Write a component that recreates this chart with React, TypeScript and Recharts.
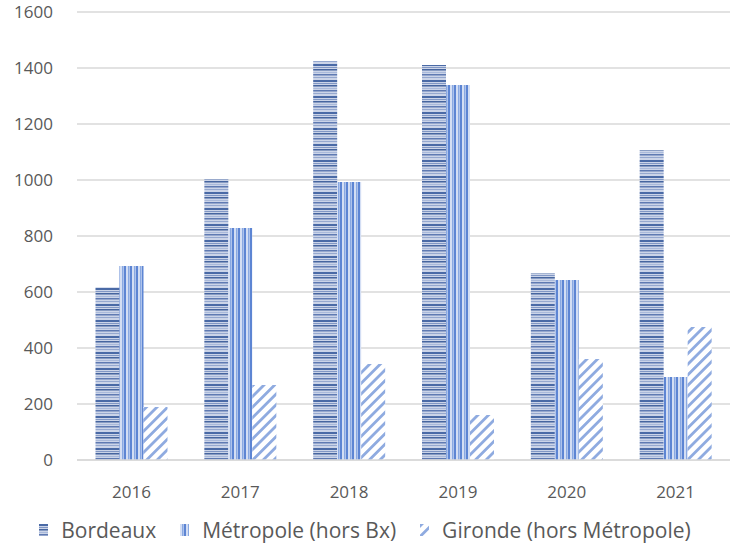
import React from "react";
import { BarChart, Bar, XAxis, YAxis, CartesianGrid, Legend } from "recharts";

const years = ["2016", "2017", "2018", "2019", "2020", "2021"];
const bordeaux = [617, 1003, 1425, 1411, 666, 1107];
const metropole = [693, 829, 993, 1339, 643, 296];
const gironde = [189, 268, 343, 161, 361, 475];
const yTicks = [0, 200, 400, 600, 800, 1000, 1200, 1400, 1600];

const seriesNames = ["Bordeaux", "Métropole (hors Bx)", "Gironde (hors Métropole)"];
const patternIds = ["patBordeaux", "patMetropole", "patGironde"];

const data = years.map((y, i) => ({
  year: y,
  bordeaux: bordeaux[i],
  metropole: metropole[i],
  gironde: gironde[i],
}));

const FONT = "'Open Sans', 'Liberation Sans', sans-serif";

function Patterns() {
  return (
    <defs>
      <pattern id="patBordeaux" width="8" height="16" patternUnits="userSpaceOnUse">
        <rect width="8" height="16" fill="#cbd4e8" />
        <rect y="0" width="8" height="2" fill="#4a6aa6" />
        <rect y="3" width="8" height="1" fill="#8197c4" />
        <rect y="5" width="8" height="1.5" fill="#46659f" />
        <rect y="8" width="8" height="1" fill="#a9b9da" />
        <rect y="10" width="8" height="1.5" fill="#5f7ab2" />
        <rect y="13" width="8" height="1" fill="#95a8cf" />
      </pattern>
      <pattern id="patMetropole" width="6" height="8" patternUnits="userSpaceOnUse">
        <rect width="6" height="8" fill="#d3def4" />
        <rect x="2" width="1.5" height="8" fill="#8aa9e2" />
        <rect x="4" width="2" height="8" fill="#5d85d3" />
      </pattern>
      <pattern id="patGironde" width="7.5" height="7.5" patternUnits="userSpaceOnUse" patternTransform="rotate(45)">
        <rect width="7.5" height="7.5" fill="#ffffff" />
        <rect x="0" width="2.8" height="7.5" fill="#8fabe0" />
      </pattern>
    </defs>
  );
}

function LegendContent() {
  return (
    <div
      style={{
        display: "flex",
        justifyContent: "center",
        alignItems: "center",
        fontFamily: FONT,
        fontSize: 21,
        color: "#595959",
        gap: 24,
        paddingTop: 6,
      }}
    >
      {seriesNames.map((n, i) => (
        <span key={n} style={{ display: "flex", alignItems: "center", gap: 13 }}>
          <svg width="9" height="12">
            <rect width="9" height="12" fill={`url(#${patternIds[i]})`} />
          </svg>
          {n}
        </span>
      ))}
    </div>
  );
}

export default function App() {
  return (
    <div style={{ position: "absolute", left: 0, top: 0, width: 737, height: 548, background: "#fff" }}>
      <BarChart
        width={737}
        height={548}
        data={data}
        margin={{ top: 12, right: 7, left: 0, bottom: 0 }}
        barCategoryGap="17%"
        barGap={0}
      >
        <Patterns />
        <CartesianGrid vertical={false} stroke="#d9d9d9" strokeWidth={1.3} />
        <XAxis
          dataKey="year"
          axisLine={{ stroke: "#d9d9d9", strokeWidth: 1.3 }}
          tickLine={false}
          tickMargin={20}
          height={50}
          tick={{ fill: "#595959", fontSize: 17, fontFamily: FONT }}
        />
        <YAxis
          domain={[0, 1600]}
          ticks={yTicks}
          width={77}
          axisLine={false}
          tickLine={false}
          tickMargin={18}
          tick={{ fill: "#595959", fontSize: 17, fontFamily: FONT }}
        />
        <Legend verticalAlign="bottom" height={38} content={<LegendContent />} />
        <Bar dataKey="bordeaux" name={seriesNames[0]} fill="url(#patBordeaux)" isAnimationActive={false} />
        <Bar dataKey="metropole" name={seriesNames[1]} fill="url(#patMetropole)" isAnimationActive={false} />
        <Bar dataKey="gironde" name={seriesNames[2]} fill="url(#patGironde)" isAnimationActive={false} />
      </BarChart>
    </div>
  );
}
